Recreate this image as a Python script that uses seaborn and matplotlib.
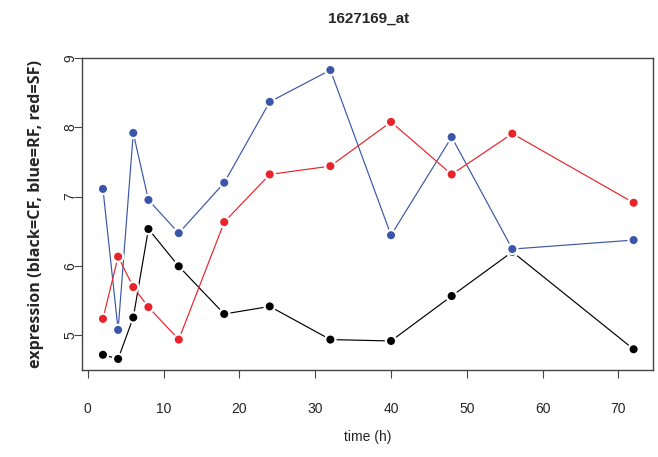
import matplotlib
matplotlib.use('Agg')
import matplotlib.pyplot as plt
import numpy as np
import pandas as pd
import seaborn as sns

# sampling times (h)
times = [2, 4, 6, 8, 12, 18, 24, 32, 40, 48, 56, 72]

# expression per condition
cf_expr = [4.71, 4.65, 5.25, 6.53, 5.99, 5.30, 5.41, 4.93, 4.91, 5.56, 6.20, 4.79]
rf_expr = [7.11, 5.07, 7.92, 6.95, 6.47, 7.20, 8.37, 8.83, 6.44, 7.86, 6.24, 6.37]
sf_expr = [5.23, 6.13, 5.69, 5.40, 4.93, 6.63, 7.32, 7.44, 8.08, 7.32, 7.91, 6.91]

conditions = ['CF', 'RF', 'SF']
colors = {'CF': '#000000', 'RF': '#3B56A8', 'SF': '#E8232A'}

df = pd.DataFrame({
    'time': times * 3,
    'expr': cf_expr + rf_expr + sf_expr,
    'cond': np.repeat(conditions, len(times)),
})

sns.set_style('white')
plt.rcParams['font.family'] = ['Liberation Sans', 'DejaVu Sans']

fig = plt.figure(figsize=(6.58, 4.57), dpi=100)
ax = fig.add_axes([0.1242, 0.1904, 0.8687, 0.682])

# lines first, then markers with a white rim (R type="b" look)
sns.lineplot(data=df, x='time', y='expr', hue='cond', palette=colors,
             linewidth=0.85, legend=False, ax=ax, sort=False)
sns.scatterplot(data=df, x='time', y='expr', hue='cond', palette=colors,
                s=55, edgecolor='white', linewidth=1.6, legend=False,
                ax=ax, zorder=3)

ax.set_xlim(-0.8, 74.6)
ax.set_ylim(4.49, 9.0)
ax.set_xticks(range(0, 71, 10))
ax.set_yticks(range(5, 10))
for spine in ax.spines.values():
    spine.set_color('#444444')
    spine.set_linewidth(1.0)

ax.tick_params(axis='x', direction='out', length=6, width=0.8, color='#444444',
               pad=17, labelsize=10, bottom=True)
ax.tick_params(axis='y', direction='out', length=6, width=0.8, color='#444444',
               pad=-3, labelsize=10, left=True)
for lab in ax.get_yticklabels():
    lab.set_rotation(90)
    lab.set_va('center')

ax.set_xlabel('time (h)', fontsize=10, labelpad=10)
ax.set_ylabel('expression (black=CF, blue=RF, red=SF)', fontsize=11.6,
              fontweight='bold', family=['Open Sans', 'DejaVu Sans'], labelpad=14)
fig.suptitle('1627169_at', fontsize=11, fontweight='bold', x=0.56, y=0.975)

fig.savefig('out.png', dpi=100)
